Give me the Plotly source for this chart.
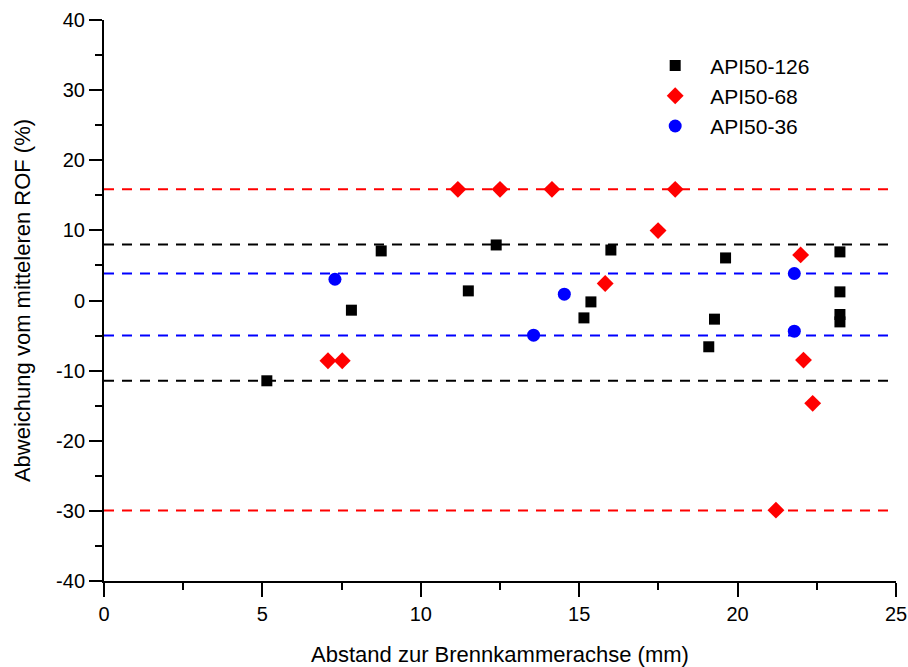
import plotly.graph_objects as go

# Data
x_126 = [5.14, 7.81, 8.75, 11.5, 12.38, 15.15, 15.37, 16.0, 19.09, 19.27, 19.62, 23.23, 23.23, 23.23, 23.23]
y_126 = [-11.45, -1.38, 7.07, 1.37, 7.92, -2.48, -0.2, 7.2, -6.6, -2.66, 6.07, 6.93, 1.23, -2.0, -3.05]

x_68 = [7.07, 7.52, 11.17, 12.5, 14.14, 15.82, 17.49, 18.03, 21.21, 21.99, 22.08, 22.37]
y_68 = [-8.6, -8.6, 15.85, 15.85, 15.85, 2.42, 9.97, 15.85, -29.9, 6.5, -8.5, -14.67]

x_36 = [7.29, 13.56, 14.53, 21.79, 21.79]
y_36 = [3.03, -4.94, 0.9, 3.85, -4.37]

lim_126 = [8.0, -11.45]
lim_68 = [15.85, -29.95]
lim_36 = [3.85, -5.0]

x_range = [0, 25]
y_range = [-40, 40]
x_ticks = [0, 5, 10, 15, 20, 25]
x_labels = ["0", "5", "10", "15", "20", "25"]
y_ticks = [-40, -30, -20, -10, 0, 10, 20, 30, 40]
y_labels = ["-40", "-30", "-20", "-10", "0", "10", "20", "30", "40"]

FONT = "Arial, 'Liberation Sans', sans-serif"

fig = go.Figure()
fig.add_trace(go.Scatter(x=x_126, y=y_126, mode="markers", name="API50-126",
                         marker=dict(symbol="square", size=11, color="black")))
fig.add_trace(go.Scatter(x=x_68, y=y_68, mode="markers", name="API50-68",
                         marker=dict(symbol="diamond", size=13, color="#ff0000")))
fig.add_trace(go.Scatter(x=x_36, y=y_36, mode="markers", name="API50-36",
                         marker=dict(symbol="circle", size=13, color="#0000ff")))

for vals, col in [(lim_68, "#ff0000"), (lim_126, "black"), (lim_36, "#0000ff")]:
    for v in vals:
        fig.add_shape(type="line", xref="paper", yref="y", x0=0, x1=1, y0=v, y1=v,
                      line=dict(color=col, width=2, dash="10px,8px"), layer="below")

axis_common = dict(showline=True, linecolor="black", linewidth=2, showgrid=False,
                   zeroline=False, tickcolor="black", tickwidth=2, automargin=False,
                   tickfont=dict(family=FONT, size=20, color="black"))

fig.update_layout(
    width=908, height=667,
    margin=dict(l=104, r=12, t=20, b=86),
    paper_bgcolor="white", plot_bgcolor="white",
    font=dict(family=FONT, color="black"),
    showlegend=True,
    legend=dict(x=0.677, y=0.955, xanchor="left", yanchor="top", itemwidth=60,
                font=dict(family=FONT, size=21, color="black"),
                bgcolor="rgba(0,0,0,0)", tracegroupgap=0),
    xaxis=dict(range=x_range, tickvals=x_ticks, ticktext=x_labels, ticks="outside", ticklen=14,
               minor=dict(dtick=2.5, tick0=0, ticks="outside", ticklen=7, tickwidth=2, tickcolor="black"),
               title=dict(text="Abstand zur Brennkammerachse (mm)", font=dict(family=FONT, size=22), standoff=24),
               **axis_common),
    yaxis=dict(range=y_range, tickvals=y_ticks, ticktext=y_labels, ticks="outside", ticklen=13,
               minor=dict(dtick=5, tick0=0, ticks="outside", ticklen=7, tickwidth=2, tickcolor="black"),
               title=dict(text="Abweichung vom mitteleren ROF (%)", font=dict(family=FONT, size=22), standoff=19),
               **axis_common),
    xaxis2=dict(range=x_range, overlaying="x", side="top", showline=True, linecolor="black", linewidth=2,
                ticks="inside", ticklen=3, tickwidth=2, tickcolor="black", dtick=2.5, tick0=0,
                showticklabels=False, showgrid=False, zeroline=False, anchor="y", automargin=False),
    yaxis2=dict(range=y_range, overlaying="y", side="right", showline=True, linecolor="black", linewidth=2,
                ticks="inside", ticklen=3, tickwidth=2, tickcolor="black", dtick=5, tick0=0,
                showticklabels=False, showgrid=False, zeroline=False, anchor="x", automargin=False),
)

fig.write_html("out.html", config={"displayModeBar": False},
               post_script="document.body.style.margin='0';document.body.style.overflow='hidden';")
